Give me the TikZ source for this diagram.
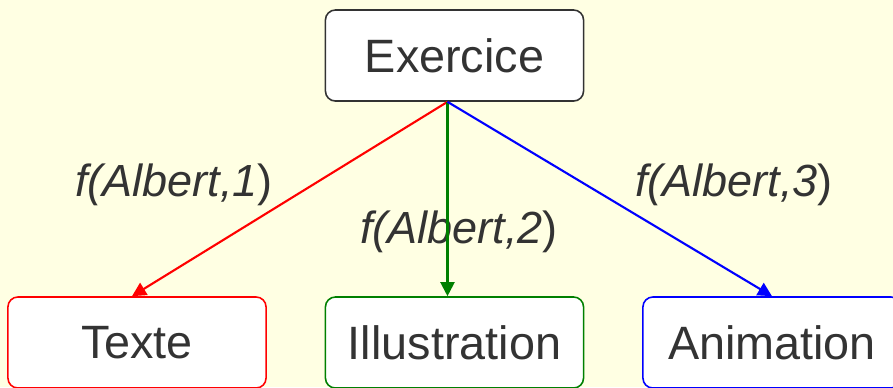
\documentclass[tikz,border=0pt]{standalone}
\usepackage{fontspec}
\setmainfont{Liberation Sans}
\usetikzlibrary{arrows.meta}
\definecolor{bgyellow}{RGB}{255,255,227}
\definecolor{txtgray}{RGB}{51,51,51}
\definecolor{arrgreen}{RGB}{0,128,0}
\begin{document}
\begin{tikzpicture}[x=0.01cm, y=-0.01cm,
    box/.style={draw, rounded corners=0.1cm, fill=white, line width=0.45pt,
      minimum width=2.58cm, minimum height=0.91cm, text=txtgray,
      font=\fontsize{13.3}{16}\selectfont},
    lbl/.style={text=txtgray, font=\fontsize{12.8}{16}\selectfont},
    -{Triangle[length=0.14cm, width=0.14cm]}, line width=0.6pt]
  \fill[bgyellow] (0,0) rectangle (893,387);
  \useasboundingbox (0,0) rectangle (893,387);

  \node[box, draw=txtgray] (ex) at (454.5,55.5) {Exercice};
  \node[box, draw=red] (tx) at (137,342.5) {Texte};
  \node[box, draw=arrgreen] (il) at (454.5,342.5) {Illustration};
  \node[box, draw=blue] (an) at (772,342.5) {Animation};

  \node[lbl] (l1) at (174,185) {\textit{f(Albert,1})};
  \node[lbl] (l2) at (459,232) {\textit{f(Albert,2})};
  \node[lbl] (l3) at (734,185) {\textit{f(Albert,3})};

  \draw[red] ([xshift=-0.07cm]ex.south) -- ([xshift=-0.05cm]tx.north);
  \draw[arrgreen] ([xshift=-0.07cm]ex.south) -- ([xshift=-0.07cm]il.north);
  \draw[blue] ([xshift=-0.07cm]ex.south) -- (an.north);
\end{tikzpicture}
\end{document}
